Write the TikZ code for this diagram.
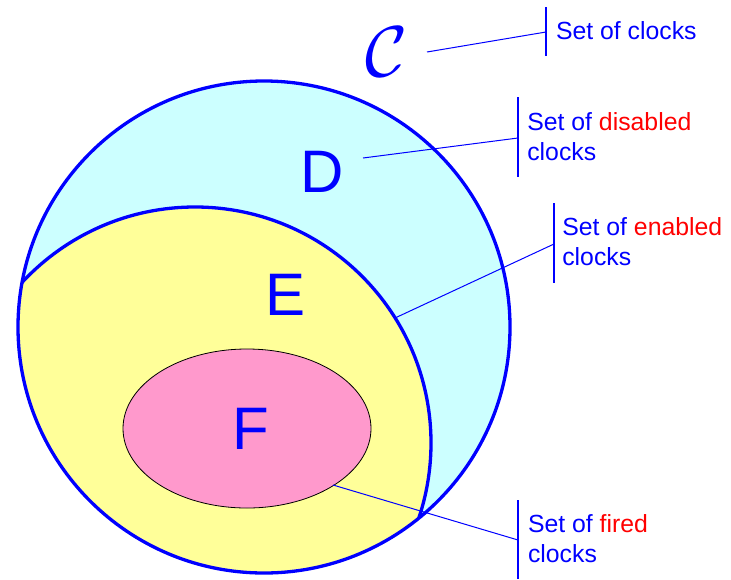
\documentclass[tikz,border=0pt]{standalone}
\usepackage{fontspec}
\usepackage{graphicx}
\setmainfont{Liberation Sans}
\usetikzlibrary{shapes.geometric}
\definecolor{cD}{HTML}{CCFFFF}
\definecolor{cE}{HTML}{FFFF99}
\definecolor{cF}{HTML}{FF99CC}
\definecolor{cB}{HTML}{0000FF}
\definecolor{cR}{HTML}{FF0000}
\begin{document}
\begin{tikzpicture}[x=1pt,y=-1pt,
  ring/.style={draw=cB, line width=3.3pt},
  lead/.style={draw=cB, line width=1pt},
  bar/.style={draw=cB, line width=1.5pt},
  big/.style={text=cB, font=\fontsize{60}{60}\selectfont, inner sep=0pt, anchor=base},
  lbl/.style={text=cB, font=\fontsize{24.8}{30}\selectfont, inner sep=0pt, anchor=base west}]
\useasboundingbox (0,0) rectangle (731,579);
% set C (disc)
\node[circle, fill=cD, minimum size=492pt, inner sep=0pt] (Cset) at (264,327) {};
% set E (clipped disc)
\begin{scope}
  \clip (264,327) circle (246pt);
  \fill[cE] (195,443) circle (236pt);
  \draw[ring] (195,443) circle (236pt);
\end{scope}
\draw[ring] (Cset.center) circle (246pt);
% set F
\node[ellipse, draw=black, line width=0.8pt, fill=cF, minimum width=248pt, minimum height=159pt, inner sep=0pt] (Fset) at (247,428.5) {};
% big letters
\node[text=cB, inner sep=0pt] (Cl) at (387,52) {\scalebox{7.2}{$\mathcal{C}$}};
\node[big] (Dl) at (321.7,192.7) {D};
\node[big] (El) at (286,315) {E};
\node[big] (Fl) at (251,449) {F};
% connector end points
\coordinate (cS) at (427,52);
\coordinate (dS) at (363,158);
\coordinate (eS) at (395,318);
\coordinate (fS) at (333,485);
\coordinate (cT1) at (546,7);   \coordinate (cT2) at (546,56);  \coordinate (cM) at (546,32);
\coordinate (dT1) at (518,97);  \coordinate (dT2) at (518,177); \coordinate (dM) at (518,138);
\coordinate (eT1) at (554,203); \coordinate (eT2) at (554,283); \coordinate (eM) at (554,244);
\coordinate (fT1) at (518,500); \coordinate (fT2) at (518,579); \coordinate (fM) at (518,540);
% bars
\draw[bar] (cT1) -- (cT2);
\draw[bar] (dT1) -- (dT2);
\draw[bar] (eT1) -- (eT2);
\draw[bar] (fT1) -- (fT2);
% leads
\draw[lead] (cS) -- (cM);
\draw[lead] (dS) -- (dM);
\draw[lead] (eS) -- (eM);
\draw[lead] (fS) -- (fM);
% labels
\node[lbl] (cL1) at (555.8,39.5) {Set of clocks};
\node[lbl] (dL1) at (527.1,130) {Set of \textcolor{cR}{disabled}};
\node[lbl] (dL2) at (527.1,160) {clocks};
\node[lbl] (eL1) at (562.1,235.7) {Set of \textcolor{cR}{enabled}};
\node[lbl] (eL2) at (562.1,265.5) {clocks};
\node[lbl] (fL1) at (527.8,532.3) {Set of \textcolor{cR}{fired}};
\node[lbl] (fL2) at (527.8,562) {clocks};
\end{tikzpicture}
\end{document}
